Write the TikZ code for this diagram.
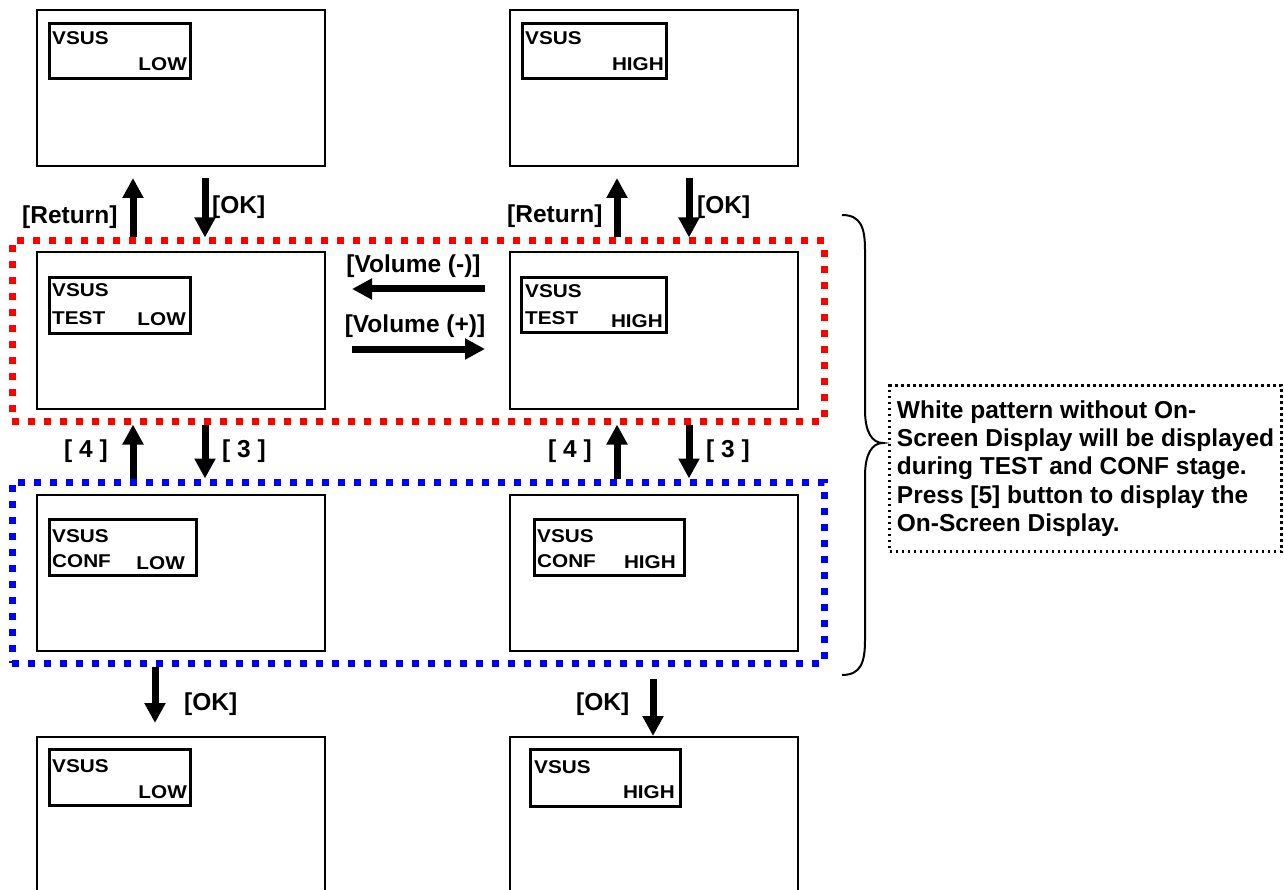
\documentclass[tikz,border=0pt]{standalone}
\usepackage{fontspec}
\setmainfont{Liberation Sans}
\newfontfamily\innerfont[FakeStretch=1.12]{Liberation Sans}
\usetikzlibrary{arrows.meta}
\definecolor{fred}{RGB}{255,0,0}
\definecolor{fblue}{RGB}{0,0,255}
\begin{document}
\begin{tikzpicture}[x=1pt,y=-1pt,
  screen/.style={draw,line width=2pt,minimum width=288pt,minimum height=156pt,inner sep=0pt},
  lcd/.style={draw,line width=3.5pt,inner sep=0pt},
  lcdtxt/.style={inner sep=0pt,font=\innerfont\fontsize{18.5}{21}\selectfont\bfseries},
  lbl/.style={inner sep=0pt,font=\fontsize{24.5}{28}\selectfont\bfseries},
  arr/.style={line width=7pt,-{Triangle[width=20pt,length=20pt]}},
  frame/.style={draw,line width=7pt,dash pattern=on 7pt off 9pt,minimum width=812pt,inner sep=0pt},
  note/.style={draw,line width=2.5pt,dash pattern=on 2.5pt off 3.5pt,minimum width=392pt,minimum height=166pt,
    align=left,inner sep=0pt,font=\fontsize{24.5}{28.3}\selectfont\bfseries}
]
\useasboundingbox (0,0) rectangle (1284,890);
% screens
\node[screen] (s1) at (181,88) {};
\node[screen] (s2) at (654,88) {};
\node[screen] (s3) at (181,330.5) {};
\node[screen] (s4) at (654,330.5) {};
\node[screen] (s5) at (181,572.5) {};
\node[screen] (s6) at (654,572.5) {};
\node[screen] (s7) at (181,815) {};
\node[screen] (s8) at (654,815) {};
% lcd boxes
\node[lcd,minimum width=141pt,minimum height=55pt] (i1) at (120,51) {};
\node[lcd,minimum width=144pt,minimum height=55pt] (i2) at (594.5,51) {};
\node[lcd,minimum width=141pt,minimum height=56pt] (i3) at (120,305.5) {};
\node[lcd,minimum width=145pt,minimum height=55pt] (i4) at (594,305) {};
\node[lcd,minimum width=147pt,minimum height=56pt] (i5) at (123,547.5) {};
\node[lcd,minimum width=150pt,minimum height=56pt] (i6) at (609.5,547.5) {};
\node[lcd,minimum width=141pt,minimum height=56pt] (i7) at (120,777.5) {};
\node[lcd,minimum width=150pt,minimum height=57pt] (i8) at (605.5,778) {};
% lcd texts
\node[lcdtxt,anchor=base west] (t1a) at (52,45) {VSUS};
\node[lcdtxt,anchor=base east] (t1b) at (187,71) {LOW};
\node[lcdtxt,anchor=base west] (t2a) at (525,45) {VSUS};
\node[lcdtxt,anchor=base east] (t2b) at (664,71) {HIGH};
\node[lcdtxt,anchor=base west] (t3a) at (52,297) {VSUS};
\node[lcdtxt,anchor=base west] (t3b) at (52,324) {TEST};
\node[lcdtxt,anchor=base east] (t3c) at (186,326) {LOW};
\node[lcdtxt,anchor=base west] (t4a) at (525,298) {VSUS};
\node[lcdtxt,anchor=base west] (t4b) at (525,325) {TEST};
\node[lcdtxt,anchor=base east] (t4c) at (663,327) {HIGH};
\node[lcdtxt,anchor=base west] (t5a) at (52,542) {VSUS};
\node[lcdtxt,anchor=base west] (t5b) at (52,567) {CONF};
\node[lcdtxt,anchor=base east] (t5c) at (185,569) {LOW};
\node[lcdtxt,anchor=base west] (t6a) at (537,542) {VSUS};
\node[lcdtxt,anchor=base west] (t6b) at (537,567) {CONF};
\node[lcdtxt,anchor=base east] (t6c) at (676,568) {HIGH};
\node[lcdtxt,anchor=base west] (t7a) at (52,772) {VSUS};
\node[lcdtxt,anchor=base east] (t7b) at (187,798) {LOW};
\node[lcdtxt,anchor=base west] (t8a) at (534,773) {VSUS};
\node[lcdtxt,anchor=base east] (t8b) at (675,798) {HIGH};
% dashed frames
\node[frame,draw=fred,minimum height=180pt] (tf) at (418,331) {};
\node[frame,draw=fblue,minimum height=181pt] (cf) at (418,572.5) {};
% arrow columns
\coordinate (xa) at (133,0);
\coordinate (xb) at (205,0);
\coordinate (xc) at (617,0);
\coordinate (xd) at (689,0);
\coordinate (xe) at (155,0);
\coordinate (xf) at (653,0);
\coordinate (ym) at (0,289);
\coordinate (yp) at (0,349);
% vertical arrows
\draw[arr,shorten >=11pt] (tf.north -| xa) -- (s1.south -| xa);
\draw[arr,shorten <=11pt] (s1.south -| xb) -- (tf.north -| xb);
\draw[arr,shorten >=11pt] (tf.north -| xc) -- (s2.south -| xc);
\draw[arr,shorten <=11pt] (s2.south -| xd) -- (tf.north -| xd);
\draw[arr] (cf.north -| xa) -- (tf.south -| xa);
\draw[arr] (tf.south -| xb) -- (cf.north -| xb);
\draw[arr] (cf.north -| xc) -- (tf.south -| xc);
\draw[arr] (tf.south -| xd) -- (cf.north -| xd);
\draw[arr,shorten >=13pt] (cf.south -| xe) -- (s7.north -| xe);
\draw[arr,shorten <=12pt] (cf.south -| xf) -- (s8.north -| xf);
% horizontal arrows
\draw[arr,shorten <=24pt,shorten >=26pt] (s4.west |- ym) -- (s3.east |- ym);
\draw[arr,shorten <=26pt,shorten >=24pt] (s3.east |- yp) -- (s4.west |- yp);
% labels
\node[lbl,anchor=base west] (lr1) at (22,224) {[Return]};
\node[lbl,anchor=base west] (lo1) at (212,214) {[OK]};
\node[lbl,anchor=base west] (lr2) at (507,223) {[Return]};
\node[lbl,anchor=base west] (lo2) at (697,214) {[OK]};
\node[lbl,anchor=base west] (l41) at (64,457) {[ 4 ]};
\node[lbl,anchor=base west] (l31) at (222,457) {[ 3 ]};
\node[lbl,anchor=base west] (l42) at (548,457) {[ 4 ]};
\node[lbl,anchor=base west] (l32) at (706,457) {[ 3 ]};
\node[lbl,anchor=base west] (lo3) at (184,710) {[OK]};
\node[lbl,anchor=base west] (lo4) at (576,710) {[OK]};
\node[lbl,anchor=base] (lvm) at (413.5,273) {[Volume (-)]};
\node[lbl,anchor=base] (lvp) at (415,332) {[Volume (+)]};
% brace
\draw[line width=2pt] (842,215) .. controls (861,215) and (865,228) .. (865,250)
  -- (865,410) .. controls (865,432) and (872,443) .. (883,443)
  .. controls (872,443) and (865,454) .. (865,476)
  -- (865,640) .. controls (865,662) and (861,675) .. (842,675);
% note
\node[note] (note) at (1085.5,468.5) {White pattern without On-\\Screen Display will be displayed\\during TEST and CONF stage.\\Press [5] button to display the\\On-Screen Display.};
\end{tikzpicture}
\end{document}
